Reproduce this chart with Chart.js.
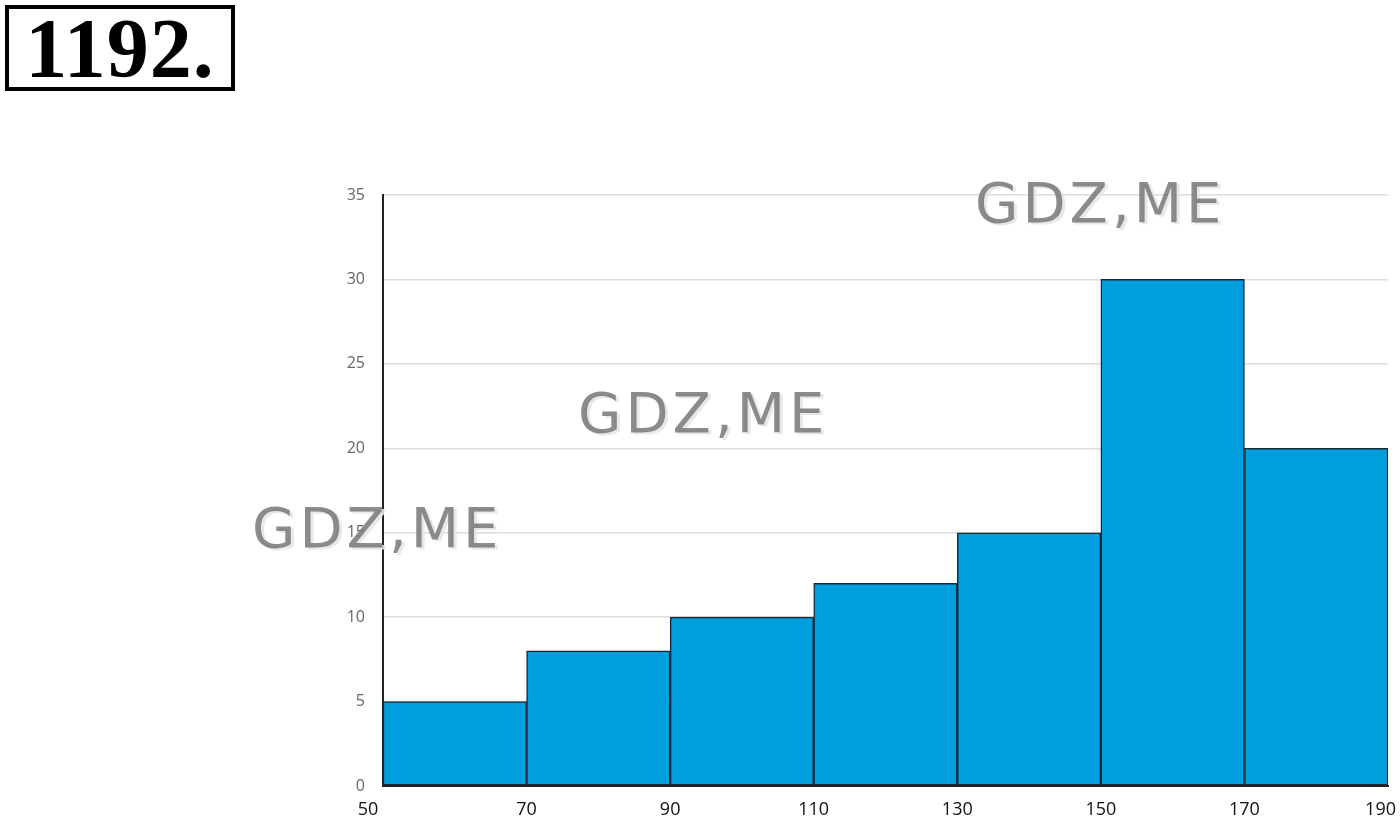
<!DOCTYPE html>
<html>
<head>
<meta charset="utf-8">
<script src="https://cdn.jsdelivr.net/npm/chart.js@4/dist/chart.umd.min.js"></script>
<style>
  body { margin: 0; background: #fff; }
  #wrap { position: relative; width: 1400px; height: 822px; }
  #num {
    position: absolute; left: 5px; top: 5px; width: 222px; height: 78px;
    border: 4px solid #000; font-family: "Liberation Serif", serif; font-weight: bold;
    font-size: 84px; line-height: 80px; text-align: center; color: #000; letter-spacing: 1px;
  }
  canvas { position: absolute; left: 0; top: 0; }
</style>
</head>
<body>
<div id="wrap">
  <canvas id="myChart" width="1400" height="822"></canvas>
  <div id="num">1192.</div>
</div>
<script>
var ctx = document.getElementById('myChart').getContext('2d');

// interval midpoints, frequencies and axis ticks
var binStarts = [50, 70, 90, 110, 130, 150, 170];
var binWidth = 20;
var counts = [5, 8, 10, 12, 15, 30, 20];
var xTicks = [50, 70, 90, 110, 130, 150, 170, 190];
var yMax = 35;

var points = binStarts.map((s, i) => ({ x: s + binWidth / 2, y: counts[i] }));

// x labels drawn by hand so the end ones stay inside the page
var xLabels = {
    id: 'xLabels',
    afterDraw: (chart) => {
        var c = chart.ctx;
        var sx = chart.scales.x;
        c.save();
        c.font = '18px "Open Sans"';
        c.fillStyle = '#111';
        c.textAlign = 'center';
        c.textBaseline = 'middle';
        xTicks.forEach((v, i) => {
            var px = sx.getPixelForValue(v);
            var w = c.measureText(String(v)).width;
            if (i === 0) px -= 15;
            if (i === xTicks.length - 1) px = Math.min(px - 6, 1400 - w / 2 - 4);
            c.fillText(String(v), px, 810);
        });
        c.restore();
    }
};

// watermark text like the source picture
var watermark = {
    id: 'watermark',
    afterDraw: (chart) => {
        var c = chart.ctx;
        var spots = [[975, 222], [578, 432], [252, 547]];
        c.save();
        c.font = '56px "DejaVu Sans"';
        c.letterSpacing = '4px';
        spots.forEach(p => {
            c.fillStyle = 'rgba(230,230,230,0.9)';
            c.fillText('GDZ,ME', p[0] + 3, p[1] + 2);
            c.fillStyle = 'rgba(120,120,120,0.85)';
            c.fillText('GDZ,ME', p[0], p[1]);
        });
        c.restore();
    }
};

var myChart = new Chart(ctx, {
    type: 'bar',
    data: {
        datasets: [{
            data: points,
            backgroundColor: '#009edc',
            borderColor: '#1c2836',
            borderWidth: 1.5,
            borderSkipped: false,
            barPercentage: 1,
            categoryPercentage: 1
        }]
    },
    options: {
        responsive: false,
        animation: false,
        layout: { padding: { left: 0, right: 12, top: 195, bottom: 0 } },
        plugins: { legend: { display: false }, tooltip: { enabled: false } },
        scales: {
            x: {
                type: 'linear',
                min: 50,
                max: 190,
                offset: false,
                afterBuildTicks: (scale) => { scale.ticks = xTicks.map(v => ({ value: v })); },
                afterFit: (scale) => { scale.height = 36; },
                grid: { display: false, drawTicks: false },
                border: { display: true, color: '#222', width: 2 },
                ticks: { display: false }
            },
            y: {
                min: 0,
                max: yMax,
                afterFit: (scale) => { scale.width = 383; },
                grid: { color: '#dcdcdc', lineWidth: 1.5, drawTicks: false },
                border: { display: true, color: '#222', width: 2 },
                ticks: {
                    stepSize: 5,
                    color: '#666',
                    font: { family: '"Open Sans"', size: 16 },
                    padding: 18
                }
            }
        }
    },
    plugins: [watermark, xLabels]
});
</script>
</body>
</html>
